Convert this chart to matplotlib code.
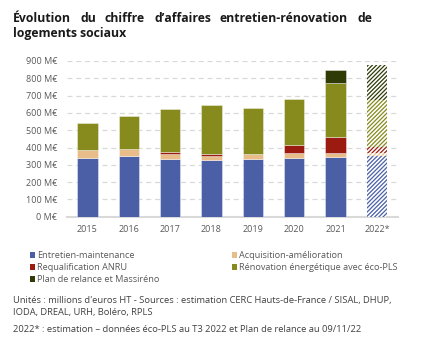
import matplotlib
matplotlib.use('Agg')
import matplotlib.pyplot as plt
from matplotlib.patches import Patch
import numpy as np

plt.rcParams['font.family'] = ['Open Sans', 'DejaVu Sans']

years = ['2015', '2016', '2017', '2018', '2019', '2020', '2021', '2022*']
entretien = [337, 350, 336, 327, 333, 338, 344, 352]
acquisition = [51, 44, 26, 23, 27, 29, 23, 19]
anru = [0, 0, 11, 12, 0, 46, 95, 31]
renovation = [156, 187, 252, 284, 271, 270, 309, 271]
relance = [0, 0, 0, 0, 0, 0, 77, 202]

series = [
    ('Entretien-maintenance', entretien, '#4a5fa6'),
    ('Acquisition-amélioration', acquisition, '#e9bd8a'),
    ('Requalification ANRU', anru, '#9b1b10'),
    ('Rénovation énergétique avec éco-PLS', renovation, '#878a1c'),
    ('Plan de relance et Massiréno', relance, '#2f3b07'),
]

title = "Évolution du chiffre d’affaires entretien-rénovation de"
title2 = "logements sociaux"
notes = [
    "Unités : millions d'euros HT - Sources : estimation CERC Hauts-de-France / SISAL, DHUP,",
    "IODA, DREAL, URH, Boléro, RPLS",
    "2022* : estimation – données éco-PLS au T3 2022 et Plan de relance au 09/11/22",
]

W, H = 423, 347
fig = plt.figure(figsize=(W / 100, H / 100), dpi=100)
fig.patch.set_facecolor('white')
ax = fig.add_axes([66.7 / W, 1 - 216.7 / H, (397.6 - 66.7) / W, (216.7 - 61) / H])

plt.rcParams['hatch.linewidth'] = 0.9
x = np.arange(len(years))
bottom = np.zeros(len(years))
for name, vals, col in series:
    vals = np.array(vals, dtype=float)
    for i in range(len(years)):
        if vals[i] <= 0:
            continue
        if i == len(years) - 1:
            # estimated year: hatched bar
            ax.bar(x[i], vals[i], 0.49, bottom=bottom[i], color='white',
                   edgecolor=col, hatch='////////', linewidth=0, zorder=3)
        else:
            ax.bar(x[i], vals[i], 0.49, bottom=bottom[i], color=col,
                   edgecolor=(1, 1, 1, 0.45), linewidth=0.6, zorder=3)
    bottom += vals

ax.set_xlim(-0.5, 7.5)
ax.set_ylim(0, 900)
ax.set_yticks(range(0, 1000, 100))
ax.set_yticklabels([f'{v} M€' for v in range(0, 1000, 100)])
ax.set_xticks(x)
ax.set_xticklabels(years)
ax.tick_params(length=0, labelsize=6.5, colors='#595959')
ax.tick_params(axis='y', pad=7)
ax.tick_params(axis='x', pad=6)
for s in ['top', 'right', 'left']:
    ax.spines[s].set_visible(False)
ax.spines['bottom'].set_color('#d9d9d9')
ax.spines['bottom'].set_linewidth(1.5)
ax.yaxis.grid(True, color='#d9d9d9', linestyle=(0, (4, 3)), linewidth=0.9, zorder=0)
ax.set_axisbelow(True)

# legend, row-major order in two columns
handles = [Patch(facecolor=c, edgecolor='none', label=n) for n, _, c in series]
order = [0, 2, 4, 1, 3]
fig.legend([handles[i] for i in order], [handles[i].get_label() for i in order],
           ncol=2, loc='upper left', bbox_to_anchor=(30 / W, 1 - 251.5 / H),
           frameon=False, fontsize=6.6, labelcolor='#595959',
           handlelength=0.55, handleheight=0.55, handletextpad=0.25,
           labelspacing=0.3, columnspacing=7.9, borderaxespad=0, borderpad=0)

# justified first title line
renderer = fig.canvas.get_renderer()
words = title.split(' ')
objs = [fig.text(0, 1 - 18 / H, w, fontsize=8.8, fontweight='bold', color='#1a1a1a',
                 va='center', ha='left') for w in words]
widths = [o.get_window_extent(renderer).width for o in objs]
x0, x1 = 13, 372
gap = (x1 - x0 - sum(widths)) / (len(words) - 1)
pos = x0
for o, w in zip(objs, widths):
    o.set_x(pos / W)
    pos += w + gap
fig.text(13 / W, 1 - 34 / H, title2, fontsize=8.8, fontweight='bold', color='#1a1a1a',
         va='center', ha='left')

for y, line in zip([300, 312.7, 329.3], notes):
    fig.text(12.7 / W, 1 - y / H, line, fontsize=6.75, color='#404040', va='center', ha='left')

fig.savefig('out.png', dpi=100)
